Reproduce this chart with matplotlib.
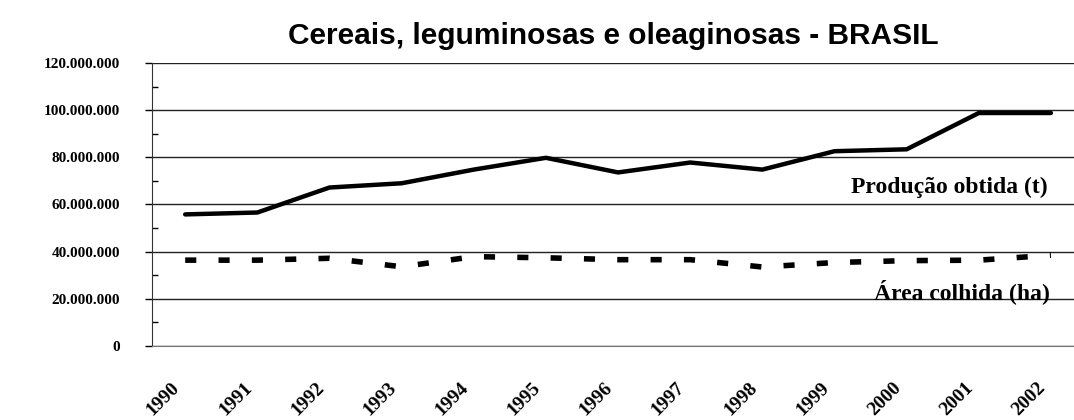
import matplotlib.pyplot as plt
import matplotlib.transforms as mtransforms
from matplotlib.ticker import FuncFormatter, MultipleLocator

anos = ["1990", "1991", "1992", "1993", "1994", "1995", "1996",
        "1997", "1998", "1999", "2000", "2001", "2002"]
producao = [55.8e6, 56.6e6, 67.2e6, 69.0e6, 74.8e6, 79.8e6, 73.6e6,
            77.8e6, 74.8e6, 82.6e6, 83.4e6, 98.8e6, 98.8e6]
area = [36.4e6, 36.4e6, 37.2e6, 33.6e6, 37.9e6, 37.4e6, 36.6e6,
        36.6e6, 33.5e6, 35.4e6, 36.2e6, 36.4e6, 38.5e6]

fig = plt.figure(figsize=(10.74, 4.2), dpi=100)
ax = fig.add_axes([152 / 1074, 74 / 420, 935 / 1074, 283 / 420])

x = range(len(anos))
ax.plot(x, producao, color="black", lw=3.2, solid_capstyle="round")
ax.plot(x, area, color="black", lw=4, dashes=(2, 4), dash_capstyle="butt")

ax.set_xlim(-0.46, 12.5)
ax.set_ylim(0, 120e6)
ax.yaxis.set_major_locator(MultipleLocator(20e6))
ax.yaxis.set_minor_locator(MultipleLocator(10e6))
ax.yaxis.set_major_formatter(FuncFormatter(lambda v, p: f"{int(v):,}".replace(",", ".")))
ax.grid(axis="y", color="#222222", lw=1)
ax.set_axisbelow(True)

ax.set_xticks(list(x))
ax.set_xticklabels(anos, rotation=45, ha="right", rotation_mode="anchor",
                   family="Liberation Serif", fontweight="bold", fontsize=14)
ax.tick_params(axis="x", length=0, pad=24)
# deslocar os anos um pouco para a esquerda
shift = mtransforms.ScaledTranslation(-14 / 100, 0, fig.dpi_scale_trans)
for lbl in ax.get_xticklabels():
    lbl.set_transform(lbl.get_transform() + shift)

ax.tick_params(axis="y", which="major", direction="out", length=5, width=1,
               labelsize=11, pad=18)
ax.tick_params(axis="y", which="minor", direction="in", length=4, width=1)
for lbl in ax.get_yticklabels():
    lbl.set_family("Liberation Serif")
    lbl.set_fontweight("bold")

for s in ["top", "right"]:
    ax.spines[s].set_visible(False)
ax.spines["left"].set_color("#333333")
ax.spines["bottom"].set_color("#777777")

ax.text(11.95, 67.4e6, "Produção obtida (t)", ha="right", va="center",
        family="Liberation Serif", fontweight="bold", fontsize=17)
ax.text(11.98, 23.3e6, "Área colhida (ha)", ha="right", va="center",
        family="Liberation Serif", fontweight="bold", fontsize=17)

fig.text(613 / 1074, 1 - 36 / 420, "Cereais, leguminosas e oleaginosas - BRASIL",
         ha="center", va="center", family="Liberation Sans", fontweight="bold",
         fontsize=21.5)

fig.savefig("out.png", dpi=100)
